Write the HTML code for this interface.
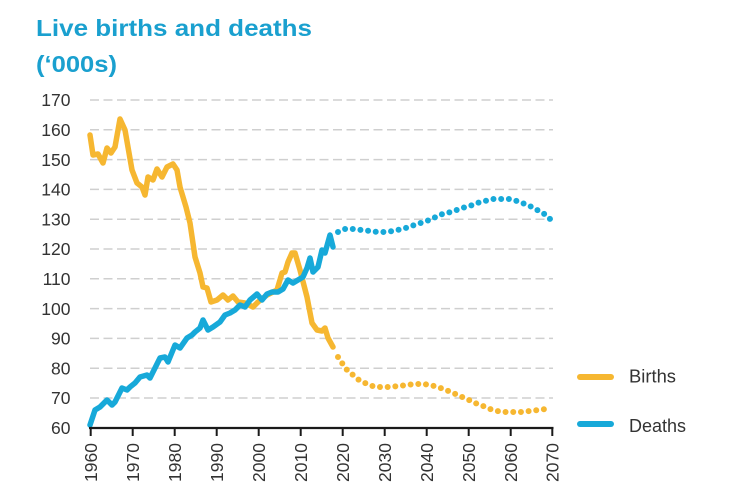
<!DOCTYPE html>
<html><head><meta charset="utf-8"><style>
html,body{margin:0;padding:0;background:#fff;}
svg{display:block;}
</style></head><body>
<svg width="730" height="502" viewBox="0 0 730 502" xmlns="http://www.w3.org/2000/svg">
<rect width="730" height="502" fill="#fff"/>
<g font-family="Liberation Sans, sans-serif" font-weight="bold" fill="#1aa0cf" font-size="23">
<text x="36" y="36" textLength="276" lengthAdjust="spacingAndGlyphs">Live births and deaths</text>
<text x="36" y="72" textLength="81" lengthAdjust="spacingAndGlyphs">(‘000s)</text>
</g>
<g stroke="#cfcfcf" stroke-width="1.5" stroke-dasharray="9 4.5">
<line x1="90" y1="100" x2="553" y2="100"/>
<line x1="90" y1="129.8" x2="553" y2="129.8"/>
<line x1="90" y1="159.6" x2="553" y2="159.6"/>
<line x1="90" y1="189.4" x2="553" y2="189.4"/>
<line x1="90" y1="219.2" x2="553" y2="219.2"/>
<line x1="90" y1="249" x2="553" y2="249"/>
<line x1="90" y1="278.8" x2="553" y2="278.8"/>
<line x1="90" y1="308.6" x2="553" y2="308.6"/>
<line x1="90" y1="338.4" x2="553" y2="338.4"/>
<line x1="90" y1="368.2" x2="553" y2="368.2"/>
<line x1="90" y1="398" x2="553" y2="398"/>
</g>
<g font-family="Liberation Sans, sans-serif" font-size="17.5" fill="#333" text-anchor="end">
<text x="70.5" y="106">170</text>
<text x="70.5" y="136">160</text>
<text x="70.5" y="166">150</text>
<text x="70.5" y="195.5">140</text>
<text x="70.5" y="225.5">130</text>
<text x="70.5" y="255">120</text>
<text x="70.5" y="285">110</text>
<text x="70.5" y="315">100</text>
<text x="70.5" y="344.5">90</text>
<text x="70.5" y="374.5">80</text>
<text x="70.5" y="404">70</text>
<text x="70.5" y="434">60</text>
</g>
<!-- births solid -->
<polyline fill="none" stroke="#f6b731" stroke-width="5.5" stroke-linejoin="round" stroke-linecap="round"
points="90,135 93,155 98,154 103,163 107,148 111,153 115,147 120,119 125,130 132,170 137,183 142,187 145,195 148,177 153,180 157,169 162,177 167,167 173,164 177,170 180,187 186,207 190,223 195,257 200,273 203,287 207,288 211,302 217,300 223,295 228,300 233,296 238,302 245,303 253,307 258,302 267,295 277,290 282,273 285,272 288,262 292,253 295,253 300,270 307,297 312,323 317,330 322,331 325,328 328,338 333,347"/>
<!-- births dotted -->
<polyline fill="none" stroke="#f6b731" stroke-width="6" stroke-linecap="round" stroke-dasharray="0 7.7"
points="338,357 342,363 347,370 353,375 359,380 367,384 375,387 382,387 390,387 398,386 407,385 415,384 423,384 430,385 438,387 446,390 453,393 460,396 467,399 475,403 483,406 490,409 497,411 505,412 513,412 522,412 530,411 538,410 546,409 549,408.5"/>
<!-- deaths solid -->
<polyline fill="none" stroke="#17a9d9" stroke-width="5.5" stroke-linejoin="round" stroke-linecap="round"
points="90,425 95,410 100,407 107,400 112,405 115,402 122,388 127,390 130,387 135,383 140,377 147,375 150,378 155,368 160,358 165,357 168,362 175,345 180,348 187,338 192,335 195,332 200,328 203,320 208,330 213,327 220,322 225,315 230,313 235,310 240,305 245,307 250,300 257,294 262,300 267,294 272,292 278,292 283,289 288,280 293,283 298,280 303,277 307,268 310,258 313,272 318,267 322,250 325,253 330,235 333,247"/>
<!-- deaths dotted -->
<polyline fill="none" stroke="#17a9d9" stroke-width="6" stroke-linecap="round" stroke-dasharray="0 7.7"
points="338,232 345,229 353,229 362,230 370,231 378,232 386,232 393,231 402,229 409,227 417,224 424,222 432,219 439,215 447,213 454,211 462,208 470,206 477,203 485,201 493,199 502,199 509,199 517,201 525,204 532,207 539,211 546,215 552,221"/>
<!-- axis -->
<line x1="89" y1="428" x2="553.5" y2="428" stroke="#1a1a1a" stroke-width="2.2"/>
<g stroke="#1a1a1a" stroke-width="2">
<line x1="90.7" y1="428" x2="90.7" y2="436"/>
<line x1="132.7" y1="428" x2="132.7" y2="436"/>
<line x1="174.7" y1="428" x2="174.7" y2="436"/>
<line x1="216.7" y1="428" x2="216.7" y2="436"/>
<line x1="258.7" y1="428" x2="258.7" y2="436"/>
<line x1="300.7" y1="428" x2="300.7" y2="436"/>
<line x1="342.7" y1="428" x2="342.7" y2="436"/>
<line x1="384.7" y1="428" x2="384.7" y2="436"/>
<line x1="426.7" y1="428" x2="426.7" y2="436"/>
<line x1="468.7" y1="428" x2="468.7" y2="436"/>
<line x1="510.7" y1="428" x2="510.7" y2="436"/>
<line x1="552.3" y1="428" x2="552.3" y2="436"/>
</g>
<g font-family="Liberation Sans, sans-serif" font-size="17.5" fill="#333" text-anchor="end">
<text transform="translate(97,443) rotate(-90)">1960</text>
<text transform="translate(139,443) rotate(-90)">1970</text>
<text transform="translate(181,443) rotate(-90)">1980</text>
<text transform="translate(223,443) rotate(-90)">1990</text>
<text transform="translate(265,443) rotate(-90)">2000</text>
<text transform="translate(307,443) rotate(-90)">2010</text>
<text transform="translate(349,443) rotate(-90)">2020</text>
<text transform="translate(391,443) rotate(-90)">2030</text>
<text transform="translate(433,443) rotate(-90)">2040</text>
<text transform="translate(475,443) rotate(-90)">2050</text>
<text transform="translate(517,443) rotate(-90)">2060</text>
<text transform="translate(558.5,443) rotate(-90)">2070</text>
</g>
<!-- legend -->
<line x1="580" y1="377" x2="611" y2="377" stroke="#f6b731" stroke-width="6" stroke-linecap="round"/>
<line x1="580" y1="424" x2="611" y2="424" stroke="#17a9d9" stroke-width="6" stroke-linecap="round"/>
<g font-family="Liberation Sans, sans-serif" font-size="18" fill="#333">
<text x="629" y="382.5" textLength="47" lengthAdjust="spacingAndGlyphs">Births</text>
<text x="629" y="432" textLength="57" lengthAdjust="spacingAndGlyphs">Deaths</text>
</g>
</svg>
</body></html>
